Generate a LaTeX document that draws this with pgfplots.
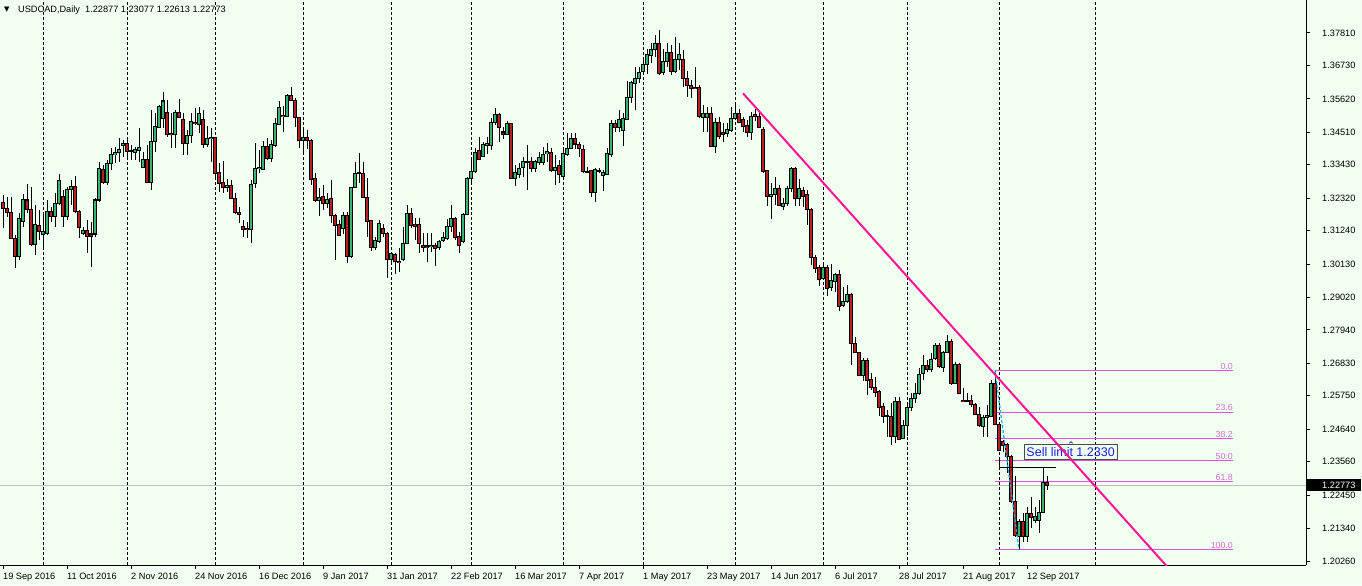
\documentclass[border=0pt]{standalone}
\usepackage{pgfplots}
\pgfplotsset{compat=1.18}
\usepackage{pgfplotstable}
\usetikzlibrary{backgrounds}
\usepackage{fontspec}
\setmainfont{Liberation Sans}
\newfontfamily\symfont{DejaVu Sans}
\definecolor{bg}{RGB}{240,255,240}
\definecolor{bull}{RGB}{60,179,113}
\definecolor{bear}{RGB}{178,34,34}
\definecolor{fib}{RGB}{226,80,226}
\definecolor{fibtext}{RGB}{214,110,214}
\definecolor{trend}{RGB}{255,20,147}
\definecolor{bidline}{RGB}{192,192,192}
\definecolor{selltext}{RGB}{30,30,240}

\pgfplotstableread{
x o h l c
0 1.3217 1.3243 1.3132 1.3198
1 1.3198 1.3237 1.3168 1.3185
2 1.3185 1.3237 1.3096 1.3099
3 1.3099 1.3110 1.2999 1.3038
4 1.3038 1.3183 1.3027 1.3165
5 1.3154 1.3245 1.3137 1.3226
6 1.3226 1.3279 1.3182 1.3195
7 1.3195 1.3270 1.3073 1.3079
8 1.3079 1.3209 1.3043 1.3143
9 1.3142 1.3193 1.3093 1.3121
10 1.3112 1.3176 1.3060 1.3120
11 1.3115 1.3226 1.3110 1.3189
12 1.3189 1.3204 1.3154 1.3171
13 1.3171 1.3248 1.3137 1.3215
14 1.3215 1.3312 1.3209 1.3292
15 1.3237 1.3259 1.3137 1.3171
16 1.3171 1.3270 1.3159 1.3262
17 1.3261 1.3292 1.3209 1.3272
18 1.3272 1.3306 1.3182 1.3187
19 1.3187 1.3193 1.3099 1.3135
20 1.3115 1.3137 1.3110 1.3126
21 1.3126 1.3159 1.3051 1.3104
22 1.3113 1.3153 1.3002 1.3104
23 1.3113 1.3232 1.3104 1.3226
24 1.3226 1.3353 1.3220 1.3331
25 1.3326 1.3342 1.3279 1.3283
26 1.3283 1.3359 1.3276 1.3348
27 1.3348 1.3398 1.3326 1.3376
28 1.3376 1.3403 1.3348 1.3384
29 1.3383 1.3431 1.3353 1.3395
30 1.3408 1.3425 1.3370 1.3415
31 1.3415 1.3431 1.3359 1.3387
32 1.3389 1.3409 1.3359 1.3386
33 1.3384 1.3403 1.3359 1.3395
34 1.3392 1.3464 1.3353 1.3401
35 1.3333 1.3387 1.3331 1.3362
36 1.3362 1.3409 1.3281 1.3283
37 1.3283 1.3525 1.3259 1.3422
38 1.3420 1.3514 1.3387 1.3470
39 1.3468 1.3542 1.3464 1.3538
40 1.3497 1.3586 1.3464 1.3555
41 1.3517 1.3558 1.3436 1.3444
42 1.3448 1.3514 1.3398 1.3444
43 1.3442 1.3525 1.3398 1.3517
44 1.3517 1.3561 1.3499 1.3501
45 1.3492 1.3514 1.3376 1.3415
46 1.3415 1.3459 1.3376 1.3439
47 1.3439 1.3514 1.3416 1.3486
48 1.3485 1.3531 1.3475 1.3481
49 1.3478 1.3536 1.3448 1.3515
50 1.3494 1.3525 1.3398 1.3409
51 1.3411 1.3472 1.3402 1.3431
52 1.3430 1.3464 1.3353 1.3434
53 1.3434 1.3436 1.3298 1.3315
54 1.3317 1.3348 1.3254 1.3281
55 1.3283 1.3357 1.3248 1.3268
56 1.3268 1.3295 1.3254 1.3275
57 1.3275 1.3292 1.3228 1.3232
58 1.3232 1.3250 1.3179 1.3184
59 1.3186 1.3204 1.3148 1.3179
60 1.3139 1.3159 1.3104 1.3128
61 1.3132 1.3154 1.3099 1.3128
62 1.3128 1.3292 1.3082 1.3278
63 1.3281 1.3415 1.3265 1.3331
64 1.3330 1.3392 1.3315 1.3335
65 1.3328 1.3422 1.3326 1.3405
66 1.3405 1.3433 1.3359 1.3365
67 1.3365 1.3425 1.3353 1.3409
68 1.3406 1.3497 1.3403 1.3479
69 1.3478 1.3556 1.3475 1.3534
70 1.3503 1.3538 1.3453 1.3507
71 1.3505 1.3578 1.3503 1.3573
72 1.3572 1.3601 1.3555 1.3556
73 1.3558 1.3564 1.3470 1.3501
74 1.3499 1.3501 1.3398 1.3425
75 1.3424 1.3459 1.3379 1.3435
76 1.3434 1.3459 1.3395 1.3423
77 1.3425 1.3428 1.3276 1.3295
78 1.3298 1.3315 1.3220 1.3224
79 1.3224 1.3265 1.3173 1.3233
80 1.3239 1.3276 1.3193 1.3213
81 1.3215 1.3248 1.3198 1.3229
82 1.3232 1.3292 1.3148 1.3176
83 1.3176 1.3179 1.3027 1.3140
84 1.3143 1.3159 1.3106 1.3109
85 1.3132 1.3187 1.3113 1.3173
86 1.3173 1.3187 1.3016 1.3038
87 1.3038 1.3270 1.3034 1.3268
88 1.3268 1.3353 1.3265 1.3315
89 1.3316 1.3383 1.3281 1.3317
90 1.3315 1.3353 1.3232 1.3235
91 1.3235 1.3298 1.3104 1.3154
92 1.3157 1.3159 1.3057 1.3069
93 1.3069 1.3104 1.3060 1.3090
94 1.3087 1.3159 1.3084 1.3149
95 1.3132 1.3146 1.3104 1.3115
96 1.3115 1.3121 1.2966 1.3027
97 1.3027 1.3054 1.3021 1.3049
98 1.3046 1.3051 1.2979 1.3021
99 1.3023 1.3065 1.2988 1.3018
100 1.3027 1.3137 1.3024 1.3082
101 1.3082 1.3209 1.3080 1.3182
102 1.3182 1.3198 1.3132 1.3140
103 1.3144 1.3165 1.3093 1.3139
104 1.3143 1.3165 1.3049 1.3080
105 1.3075 1.3117 1.3054 1.3069
106 1.3073 1.3117 1.3021 1.3069
107 1.3071 1.3117 1.3054 1.3076
108 1.3076 1.3082 1.3007 1.3065
109 1.3067 1.3093 1.3060 1.3087
110 1.3091 1.3121 1.3087 1.3102
111 1.3099 1.3162 1.3093 1.3139
112 1.3137 1.3209 1.3121 1.3163
113 1.3163 1.3171 1.3093 1.3102
114 1.3103 1.3121 1.3051 1.3075
115 1.3087 1.3182 1.3084 1.3178
116 1.3178 1.3303 1.3176 1.3298
117 1.3298 1.3365 1.3281 1.3321
118 1.3320 1.3398 1.3317 1.3384
119 1.3389 1.3436 1.3361 1.3362
120 1.3372 1.3420 1.3370 1.3409
121 1.3408 1.3436 1.3379 1.3413
122 1.3408 1.3497 1.3392 1.3484
123 1.3483 1.3531 1.3475 1.3509
124 1.3509 1.3514 1.3420 1.3468
125 1.3452 1.3470 1.3428 1.3443
126 1.3443 1.3490 1.3442 1.3481
127 1.3481 1.3483 1.3295 1.3296
128 1.3297 1.3342 1.3272 1.3317
129 1.3312 1.3350 1.3298 1.3331
130 1.3333 1.3370 1.3303 1.3353
131 1.3350 1.3409 1.3259 1.3353
132 1.3353 1.3370 1.3320 1.3331
133 1.3331 1.3359 1.3320 1.3353
134 1.3351 1.3387 1.3342 1.3368
135 1.3350 1.3403 1.3342 1.3378
136 1.3379 1.3415 1.3353 1.3386
137 1.3383 1.3398 1.3320 1.3323
138 1.3323 1.3376 1.3276 1.3335
139 1.3339 1.3359 1.3281 1.3312
140 1.3303 1.3392 1.3298 1.3379
141 1.3376 1.3450 1.3372 1.3398
142 1.3398 1.3448 1.3395 1.3431
143 1.3431 1.3448 1.3395 1.3412
144 1.3411 1.3420 1.3370 1.3398
145 1.3395 1.3409 1.3317 1.3320
146 1.3322 1.3337 1.3315 1.3319
147 1.3323 1.3326 1.3235 1.3250
148 1.3250 1.3331 1.3220 1.3326
149 1.3322 1.3331 1.3317 1.3323
150 1.3308 1.3326 1.3257 1.3317
151 1.3312 1.3398 1.3309 1.3379
152 1.3376 1.3492 1.3370 1.3481
153 1.3481 1.3492 1.3453 1.3468
154 1.3468 1.3525 1.3453 1.3492
155 1.3456 1.3514 1.3405 1.3497
156 1.3495 1.3622 1.3492 1.3567
157 1.3566 1.3622 1.3547 1.3616
158 1.3614 1.3667 1.3525 1.3630
159 1.3630 1.3669 1.3614 1.3650
160 1.3652 1.3694 1.3641 1.3678
161 1.3675 1.3727 1.3645 1.3708
162 1.3705 1.3747 1.3680 1.3727
163 1.3727 1.3774 1.3700 1.3747
164 1.3747 1.3791 1.3641 1.3647
165 1.3649 1.3727 1.3641 1.3686
166 1.3686 1.3749 1.3669 1.3717
167 1.3717 1.3741 1.3641 1.3652
168 1.3652 1.3767 1.3647 1.3694
169 1.3694 1.3747 1.3658 1.3708
170 1.3694 1.3725 1.3603 1.3630
171 1.3630 1.3656 1.3569 1.3605
172 1.3605 1.3625 1.3564 1.3597
173 1.3601 1.3667 1.3594 1.3596
174 1.3601 1.3608 1.3497 1.3503
175 1.3501 1.3542 1.3453 1.3512
176 1.3501 1.3536 1.3453 1.3512
177 1.3512 1.3536 1.3401 1.3403
178 1.3403 1.3497 1.3383 1.3483
179 1.3483 1.3503 1.3428 1.3436
180 1.3450 1.3481 1.3420 1.3444
181 1.3448 1.3481 1.3434 1.3459
182 1.3456 1.3534 1.3453 1.3497
183 1.3497 1.3547 1.3494 1.3512
184 1.3512 1.3527 1.3481 1.3483
185 1.3492 1.3501 1.3453 1.3470
186 1.3472 1.3492 1.3434 1.3450
187 1.3450 1.3519 1.3425 1.3505
188 1.3511 1.3527 1.3490 1.3503
189 1.3505 1.3519 1.3464 1.3468
190 1.3459 1.3470 1.3317 1.3320
191 1.3323 1.3326 1.3206 1.3237
192 1.3237 1.3283 1.3162 1.3245
193 1.3243 1.3303 1.3209 1.3265
194 1.3265 1.3276 1.3206 1.3209
195 1.3206 1.3232 1.3193 1.3215
196 1.3215 1.3273 1.3206 1.3265
197 1.3265 1.3337 1.3254 1.3331
198 1.3331 1.3335 1.3206 1.3232
199 1.3232 1.3295 1.3206 1.3265
200 1.3259 1.3268 1.3204 1.3239
201 1.3243 1.3259 1.3143 1.3195
202 1.3195 1.3198 1.3010 1.3036
203 1.3036 1.3043 1.2984 1.2999
204 1.3002 1.3010 1.2940 1.2962
205 1.2966 1.3015 1.2960 1.3002
206 1.3002 1.3010 1.2907 1.2932
207 1.2936 1.3013 1.2924 1.2958
208 1.2954 1.2982 1.2921 1.2977
209 1.2977 1.2993 1.2858 1.2871
210 1.2874 1.2938 1.2870 1.2890
211 1.2888 1.2943 1.2884 1.2913
212 1.2913 1.2916 1.2677 1.2750
213 1.2750 1.2772 1.2716 1.2718
214 1.2718 1.2722 1.2641 1.2644
215 1.2644 1.2700 1.2625 1.2694
216 1.2694 1.2700 1.2578 1.2625
217 1.2628 1.2650 1.2594 1.2603
218 1.2603 1.2637 1.2572 1.2587
219 1.2589 1.2594 1.2508 1.2537
220 1.2541 1.2550 1.2484 1.2508
221 1.2509 1.2528 1.2439 1.2506
222 1.2508 1.2550 1.2412 1.2439
223 1.2439 1.2572 1.2417 1.2555
224 1.2555 1.2572 1.2428 1.2431
225 1.2434 1.2495 1.2431 1.2478
226 1.2478 1.2555 1.2441 1.2536
227 1.2536 1.2586 1.2525 1.2567
228 1.2567 1.2617 1.2550 1.2583
229 1.2583 1.2667 1.2578 1.2647
230 1.2650 1.2711 1.2628 1.2675
231 1.2675 1.2694 1.2655 1.2661
232 1.2663 1.2716 1.2655 1.2696
233 1.2700 1.2750 1.2694 1.2742
234 1.2742 1.2750 1.2669 1.2672
235 1.2669 1.2724 1.2653 1.2720
236 1.2720 1.2777 1.2716 1.2757
237 1.2757 1.2764 1.2611 1.2617
238 1.2617 1.2686 1.2613 1.2680
239 1.2680 1.2683 1.2580 1.2583
240 1.2561 1.2600 1.2554 1.2556
241 1.2558 1.2583 1.2553 1.2556
242 1.2561 1.2578 1.2539 1.2545
243 1.2547 1.2550 1.2511 1.2514
244 1.2514 1.2539 1.2472 1.2476
245 1.2472 1.2511 1.2439 1.2502
246 1.2502 1.2545 1.2439 1.2511
247 1.2506 1.2628 1.2503 1.2617
248 1.2617 1.2659 1.2478 1.2481
249 1.2481 1.2486 1.2393 1.2395
250 1.2423 1.2428 1.2389 1.2411
251 1.2412 1.2417 1.2317 1.2373
252 1.2373 1.2378 1.2220 1.2223
253 1.2223 1.2308 1.2107 1.2110
254 1.2109 1.2164 1.2063 1.2157
255 1.2157 1.2184 1.2090 1.2109
256 1.2107 1.2206 1.2090 1.2184
257 1.2184 1.2240 1.2135 1.2171
258 1.2160 1.2206 1.2151 1.2173
259 1.2160 1.2229 1.2118 1.2188
260 1.2188 1.2337 1.2184 1.2286
261 1.22877 1.23077 1.22613 1.22773
}\candles

\begin{document}
\begin{tikzpicture}[show background rectangle, inner frame sep=0pt,
  background rectangle/.style={fill=bg, draw=none}]
\begin{axis}[
  scale only axis, width=1306pt, height=565pt,
  xmin=-0.75, xmax=325.75, ymin=1.20127, ymax=1.38907,
  axis x line*=bottom, axis y line*=right,
  axis line style={black, line width=1pt},
  tick align=outside, major tick length=4pt,
  tick style={black, line width=1pt},
  xtick={0,16,...,256},
  xticklabels={19 Sep 2016,11 Oct 2016,2 Nov 2016,24 Nov 2016,16 Dec 2016,9 Jan 2017,31 Jan 2017,22 Feb 2017,16 Mar 2017,7 Apr 2017,1 May 2017,23 May 2017,14 Jun 2017,6 Jul 2017,28 Jul 2017,21 Aug 2017,12 Sep 2017},
  ytick={1.20260,1.21340,1.22450,1.23560,1.24640,1.25750,1.26830,1.27940,1.29020,1.30130,1.31240,1.32320,1.33430,1.34510,1.35620,1.36730,1.37810},
  yticklabels={1.20260,1.21340,1.22450,1.23560,1.24640,1.25750,1.26830,1.27940,1.29020,1.30130,1.31240,1.32320,1.33430,1.34510,1.35620,1.36730,1.37810},
  ticklabel style={font=\fontsize{9.2}{11}\selectfont, inner sep=0pt},
  xticklabel style={anchor=north west, xshift=0pt, yshift=-4pt},
  yticklabel style={anchor=west, xshift=12pt},
  clip mode=individual,
]
% month separators
\pgfplotsinvokeforeach{10,31,53,75,97,117,140,160,183,205,226,249,273}{
  \addplot[black, line width=1pt, dash pattern=on 3pt off 2pt, forget plot]
    coordinates {(#1,1.20127) (#1,1.38907)};
}
% bid line
\addplot[bidline, line width=1pt, forget plot] coordinates {(-0.75,1.22773) (325.75,1.22773)};
% fibonacci levels (0, 23.6, 38.2, 50, 61.8, 100)
\addplot[fib, line width=1.1pt, forget plot] coordinates {(248,1.26592) (307.5,1.26592)};
\addplot[fib, line width=1.1pt, forget plot] coordinates {(248,1.25196) (307.5,1.25196)};
\addplot[fib, line width=1.1pt, forget plot] coordinates {(248,1.24332) (307.5,1.24332)};
\addplot[fib, line width=1.1pt, forget plot] coordinates {(248,1.23600) (307.5,1.23600)};
\addplot[fib, line width=1.1pt, forget plot] coordinates {(248,1.22902) (307.5,1.22902)};
\addplot[fib, line width=1.1pt, forget plot] coordinates {(248,1.20642) (307.5,1.20642)};
% wicks
\addplot[draw=none, mark=none, forget plot,
  error bars/.cd, y dir=both, y explicit, error mark=none,
  error bar style={draw=black, line width=1pt}]
  table[x=x, y expr={(\thisrow{h}+\thisrow{l})/2}, y error expr={(\thisrow{h}-\thisrow{l})/2}] {\candles};
% body outlines
\addplot[draw=none, mark=none, forget plot,
  error bars/.cd, y dir=both, y explicit, error mark=none,
  error bar style={draw=black, line width=3.2pt}]
  table[x=x, y expr={(\thisrow{o}+\thisrow{c})/2}, y error expr={abs(\thisrow{c}-\thisrow{o})/2+0.00017}] {\candles};
% bull fill
\addplot[draw=none, mark=none, forget plot,
  restrict expr to domain={\thisrow{c}-\thisrow{o}}{0:1},
  error bars/.cd, y dir=both, y explicit, error mark=none,
  error bar style={draw=bull, line width=1.3pt}]
  table[x=x, y expr={(\thisrow{o}+\thisrow{c})/2}, y error expr={max(abs(\thisrow{c}-\thisrow{o})/2-0.00017,0)}] {\candles};
% bear fill
\addplot[draw=none, mark=none, forget plot,
  restrict expr to domain={\thisrow{c}-\thisrow{o}}{-1:0},
  error bars/.cd, y dir=both, y explicit, error mark=none,
  error bar style={draw=bear, line width=1.3pt}]
  table[x=x, y expr={(\thisrow{o}+\thisrow{c})/2}, y error expr={max(abs(\thisrow{c}-\thisrow{o})/2-0.00017,0)}] {\candles};
% fib base line (cyan dotted)
\addplot[cyan, line width=1.2pt, dash pattern=on 3pt off 2pt, forget plot] coordinates {(248,1.2659) (254,1.2063)};
% black order line
\addplot[black, line width=1pt, forget plot] coordinates {(249,1.2368) (249,1.2337) (263.25,1.2337)};
% fib labels
\node[anchor=south east, inner sep=0pt, text=fibtext, font=\fontsize{8.8}{10}\selectfont] at (axis cs:307.5,1.2663) {0.0};
\node[anchor=south east, inner sep=0pt, text=fibtext, font=\fontsize{8.8}{10}\selectfont] at (axis cs:307.5,1.2524) {23.6};
\node[anchor=south east, inner sep=0pt, text=fibtext, font=\fontsize{8.8}{10}\selectfont] at (axis cs:307.5,1.2437) {38.2};
\node[anchor=south east, inner sep=0pt, text=fibtext, font=\fontsize{8.8}{10}\selectfont] at (axis cs:307.5,1.2364) {50.0};
\node[anchor=south east, inner sep=0pt, text=fibtext, font=\fontsize{8.8}{10}\selectfont] at (axis cs:307.5,1.2294) {61.8};
\node[anchor=south east, inner sep=0pt, text=fibtext, font=\fontsize{8.8}{10}\selectfont] at (axis cs:307.5,1.2068) {100.0};
% sell limit label
\node[draw=black!70, line width=1pt, text=selltext, inner sep=0pt, minimum width=93pt, minimum height=15pt, font=\fontsize{12.5}{14}\selectfont] at (axis cs:266.9,1.2389) {Sell limit 1.2330};
\addplot[selltext, line width=0.8pt, forget plot] coordinates {(266.6,1.2417) (267,1.2423) (267.4,1.2417)};
% trend line
\addplot[trend, line width=2pt, forget plot] coordinates {(185,1.35806) (292,1.19929)};
% current price tag
\node[fill=black, anchor=west, minimum width=55pt, minimum height=12pt, inner sep=0pt] at (axis cs:325.75,1.22773) {};
\node[text=white, anchor=west, inner sep=0pt, xshift=16pt, font=\fontsize{9.2}{11}\selectfont] at (axis cs:325.75,1.22773) {1.22773};
% reference corners
\coordinate (TL) at (rel axis cs:0,1);
\coordinate (BL) at (rel axis cs:0,0);
\coordinate (TR) at (rel axis cs:1,1);
\end{axis}
\node[anchor=west, inner sep=0pt, font=\symfont\fontsize{7}{8}\selectfont] at ([xshift=4pt,yshift=-10pt]TL) {▼};
\node[anchor=west, inner sep=0pt, font=\fontsize{9.2}{11}\selectfont] at ([xshift=18pt,yshift=-10pt]TL) {USDCAD,Daily\ \ 1.22877 1.23077 1.22613 1.22773};
\pgfresetboundingbox
\path[use as bounding box] ([yshift=-20pt]BL) rectangle ([xshift=56pt]TR);
\end{tikzpicture}
\end{document}
